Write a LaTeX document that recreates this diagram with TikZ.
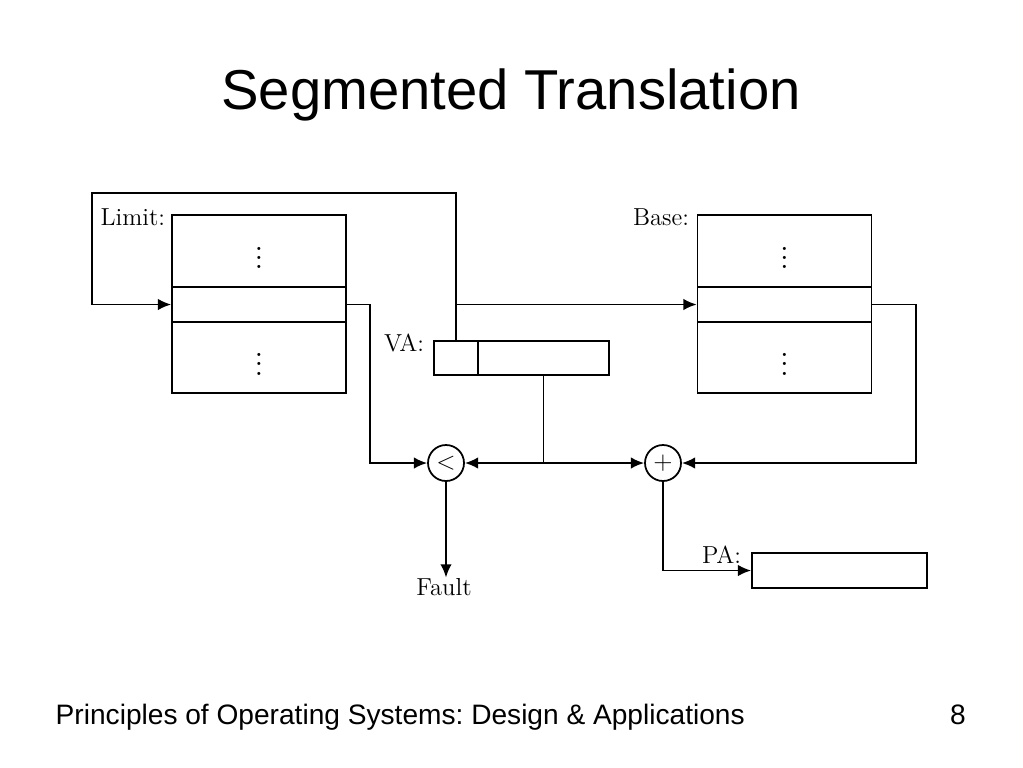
\documentclass[tikz,border=0pt]{standalone}
\usepackage{fontspec}
\newfontfamily\slidefont{Liberation Sans}
\usetikzlibrary{arrows.meta,calc}
\newcommand{\celldots}{\scalebox{1.3}{$\vdots$}}
\begin{document}
\begin{tikzpicture}[x=0.02cm, y=-0.02cm, line width=1pt, >={Latex[length=7.5pt,width=6.5pt]},
    cell/.style={draw, minimum width=3.48cm, inner sep=0pt, font=\fontsize{14}{16}\selectfont},
    op/.style={draw, circle, minimum size=0.72cm, inner sep=0pt, font=\fontsize{14}{16}\selectfont},
    lbl/.style={inner sep=0pt, font=\fontsize{14}{16}\selectfont}]
        \useasboundingbox (0,0) rectangle (1023,767);
        \node[font=\slidefont\fontsize{32}{36}\selectfont] (title) at (511,95) {Segmented Translation};
        % limit table
        \node[cell, minimum height=1.44cm] (limtop) at (259,251) {\celldots};
        \node[cell, minimum height=0.70cm] (limmid) at (259,304.5) {};
        \node[cell, minimum height=1.42cm] (limbot) at (259,357.5) {\celldots};
        \node[lbl, anchor=base east] (limlbl) at (166,225) {Limit:};
        % base table
        \node[cell, minimum height=1.44cm] (basetop) at (784.5,251) {\celldots};
        \node[cell, minimum height=0.70cm] (basemid) at (784.5,304.5) {};
        \node[cell, minimum height=1.42cm] (basebot) at (784.5,357.5) {\celldots};
        \node[lbl, anchor=base east] (baselbl) at (690,225) {Base:};
        % virtual address
        \node[cell, minimum width=0.88cm, minimum height=0.68cm] (vaseg) at (456,358) {};
        \node[cell, minimum width=2.62cm, minimum height=0.68cm] (vaoff) at (543.5,358) {};
        \node[lbl, anchor=base east] (valbl) at (425,351) {VA:};
        % physical address
        \node[cell, minimum width=3.5cm, minimum height=0.70cm] (pa) at (839.5,570.5) {};
        \node[lbl, anchor=base east] (palbl) at (742,563) {PA:};
        \node[op] (cmp) at (446,463) {$<$};
        \node[op] (add) at (663,463) {$+$};
        \node[lbl] (fault) at (444,587) {Fault};
        \coordinate (loop) at (92,193);
        \coordinate (limturn) at (370,304.5);
        \coordinate (baseturn) at (916,304.5);
        \coordinate (split) at (vaoff.south |- cmp);
        \draw[->] (vaseg.north) |- (loop) |- (limmid.west);
        \draw[->] (vaseg.north |- limmid.west) -- (basemid.west);
        \draw[->] (limmid.east) -- (limturn) |- (cmp.west);
        \draw (vaoff.south) -- (split);
        \draw[->] (split) -- (cmp.east);
        \draw[->] (split) -- (add.west);
        \draw[->] (basemid.east) -- (baseturn) |- (add.east);
        \draw[->] (add.south) |- (pa.west);
        \draw[->] (cmp.south) -- (cmp.south |- fault.north);
        \node[font=\slidefont\fontsize{16}{19}\selectfont\frenchspacing, anchor=base west] (course) at (49,724) {Principles of Operating Systems: Design \& Applications};
        \node[font=\slidefont\fontsize{16}{19}\selectfont, anchor=base] (page) at (958,724) {8};
\end{tikzpicture}
\end{document}
